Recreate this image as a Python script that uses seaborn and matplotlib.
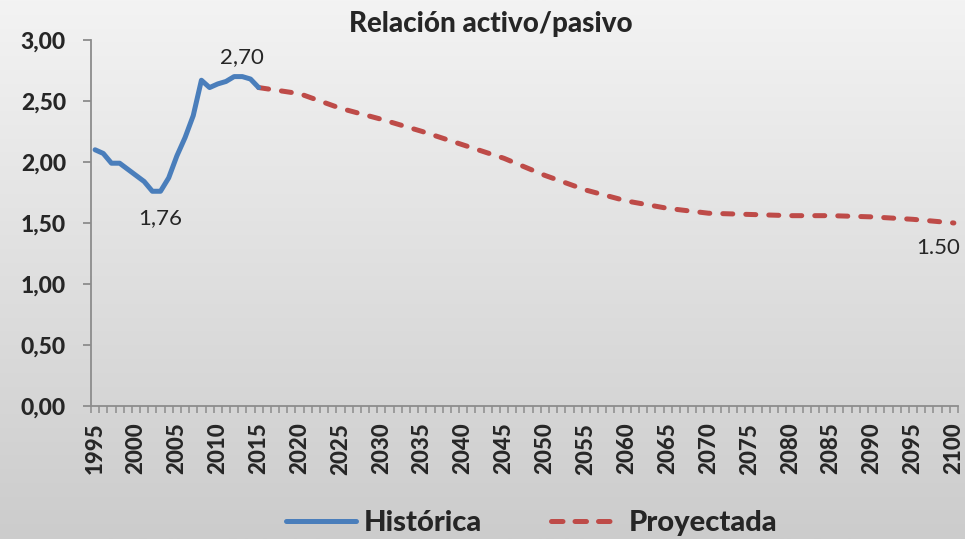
import numpy as np
import pandas as pd
import matplotlib
matplotlib.use("Agg")
import matplotlib.pyplot as plt
from matplotlib.ticker import FuncFormatter, MultipleLocator, FixedLocator
import seaborn as sns

# datos
years_hist = list(range(1995, 2016))
ratio_hist = [2.10, 2.07, 1.99, 1.99, 1.94, 1.89, 1.84, 1.76, 1.76, 1.87,
              2.05, 2.20, 2.38, 2.67, 2.61, 2.64, 2.66, 2.70, 2.70, 2.68, 2.61]

years_proj = list(range(2015, 2101, 5))
ratio_proj = [2.61, 2.56, 2.44, 2.35, 2.25, 2.14, 2.03, 1.89, 1.77, 1.68,
              1.62, 1.58, 1.57, 1.56, 1.56, 1.55, 1.53, 1.50]

labels_hist = {2003: "1,76", 2013: "2,70"}
label_end = "1.50"

df_hist = pd.DataFrame({"year": years_hist, "ratio": ratio_hist})
df_proj = pd.DataFrame({"year": years_proj, "ratio": ratio_proj})

sns.set_style("white")
plt.rcParams["font.family"] = ["Lato", "DejaVu Sans"]

fig = plt.figure(figsize=(9.65, 5.39), dpi=100)

# fondo degradado
bg = fig.add_axes([0, 0, 1, 1], zorder=-1)
grad = np.linspace(243, 204, 256).reshape(-1, 1) / 255.0
bg.imshow(np.dstack([grad, grad, grad]), aspect="auto", extent=[0, 1, 0, 1])
bg.axis("off")

ax = fig.add_axes([0.0943, 0.2468, 0.8984, 0.679])
ax.patch.set_alpha(0)

blue = "#4A7EBB"
red = "#BE4B48"
sns.lineplot(data=df_hist, x="year", y="ratio", ax=ax, color=blue, lw=3.6,
             solid_capstyle="round", solid_joinstyle="round", label="Histórica", zorder=3)
sns.lineplot(data=df_proj, x="year", y="ratio", ax=ax, color=red, lw=3.6,
             dashes=(2, 2.6), dash_capstyle="round", label="Proyectada", zorder=2)

# categorias centradas entre marcas (como Excel)
ax.set_xlim(years_hist[0] - 0.5, years_proj[-1] + 0.5)
ax.set_ylim(0, 3)
ax.set_xlabel("")
ax.set_ylabel("")

ax.yaxis.set_major_locator(MultipleLocator(0.5))
ax.yaxis.set_major_formatter(FuncFormatter(lambda v, p: f"{v:.2f}".replace(".", ",")))
ax.xaxis.set_major_locator(MultipleLocator(5))
ax.xaxis.set_minor_locator(FixedLocator(np.arange(1994.5, 2101, 1)))

for s in ["top", "right"]:
    ax.spines[s].set_visible(False)
for s in ["left", "bottom"]:
    ax.spines[s].set_color("#8C8C8C")
    ax.spines[s].set_linewidth(1.3)

ax.tick_params(axis="y", which="major", direction="out", length=6, width=1.3,
               color="#8C8C8C", pad=12, labelsize=16.5, left=True)
ax.tick_params(axis="x", which="minor", direction="out", length=5, width=1.1,
               color="#8C8C8C", bottom=True)
ax.tick_params(axis="x", which="major", length=0, labelsize=16, pad=12, labelrotation=90)
for t in ax.get_xticklabels() + ax.get_yticklabels():
    t.set_fontweight("black")

# etiquetas de datos
for yr, txt in labels_hist.items():
    v = ratio_hist[years_hist.index(yr)]
    off = -19 if v < 2 else 14
    ax.annotate(txt, (yr, v), xytext=(0, off), textcoords="offset points",
                ha="center", va="center", fontsize=16)
ax.annotate(label_end, (years_proj[-1], ratio_proj[-1]), xytext=(-11, -18),
            textcoords="offset points", ha="center", va="center", fontsize=16)

fig.text(0.509, 0.955, "Relación activo/pasivo", ha="center", va="center",
         fontsize=20, fontweight="black")

ax.legend_.remove()
h, l = ax.get_legend_handles_labels()
leg = fig.legend(h, l, loc="lower center", bbox_to_anchor=(0.551, -0.044), ncol=2,
                 frameon=False, prop={"size": 21, "weight": "black"},
                 handlelength=2.4, handletextpad=0.28, columnspacing=2.35)
leg.get_lines()[1].set_dashes((2.3, 2.4))

fig.savefig("out.png", dpi=100)
